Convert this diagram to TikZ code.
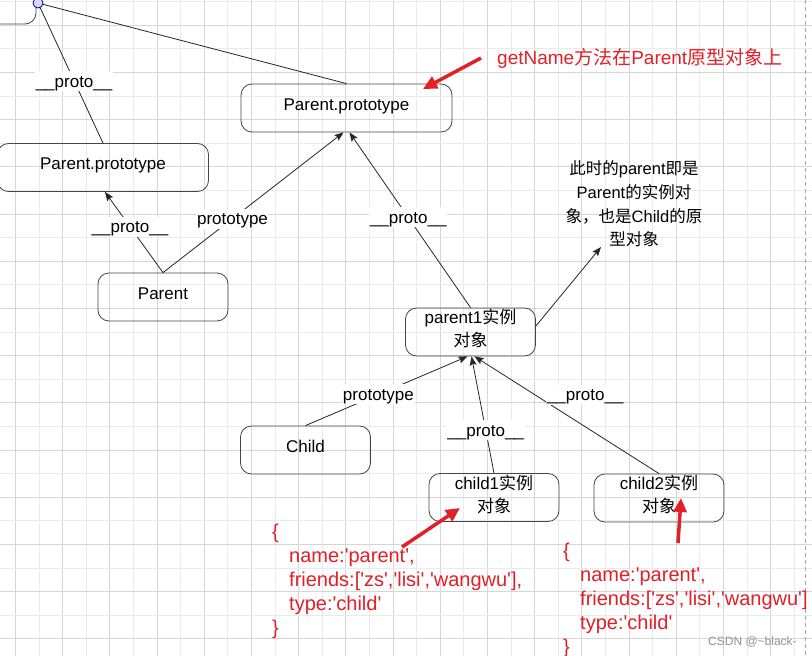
\documentclass[tikz,border=0pt]{standalone}
\usepackage{fontspec}
\setmainfont{Liberation Sans}
\newfontfamily\cjk{Noto Sans CJK SC}
\usepackage{tikz}
\usetikzlibrary{arrows.meta,positioning}
\definecolor{annored}{RGB}{226,32,40}
\definecolor{gridmajor}{RGB}{214,214,214}
\definecolor{gridminor}{RGB}{234,234,234}
\definecolor{boxline}{RGB}{70,70,70}
\newcommand{\zhs}[1]{{\cjk #1}}
\newcommand{\squote}{\textquotesingle}

\begin{document}
\begin{tikzpicture}[x=1pt, y=-1pt,
  rbox/.style={draw=boxline, line width=0.8pt, rounded corners=11pt, minimum width=130pt, minimum height=48pt,
    inner sep=0pt, text depth=7.5pt, align=center, font=\fontsize{17}{23}\selectfont},
  widebox/.style={rbox, minimum width=211pt},
  plainline/.style={draw=black!85, line width=0.8pt},
  conn/.style={plainline, -{Stealth[length=9pt,width=7pt,inset=1.5pt]}},
  elabel/.style={fill=white, inner xsep=1pt, inner ysep=3.25pt, text height=13pt, text depth=0.5pt,
    font=\fontsize{17}{20}\selectfont},
  redarrow/.style={draw=annored, line width=3.5pt, -{Triangle[length=14pt,width=13pt]}},
  redtext/.style={text=annored, font=\fontsize{20}{24}\selectfont, align=left, inner sep=0pt}
]
  \useasboundingbox (0,0) rectangle (812,656);
  \fill[white] (0,0) rectangle (812,656);

  % Grid
  \foreach \k in {0,...,33}{
    \pgfmathsetmacro{\gx}{15.3+23.6*\k}
    \ifodd\k \def\gc{gridminor}\else \def\gc{gridmajor}\fi
    \draw[\gc, line width=0.8pt] (\gx,0) -- (\gx,656);
  }
  \foreach \k in {0,...,27}{
    \pgfmathsetmacro{\gy}{1.5+23.6*\k}
    \ifodd\k \def\gc{gridmajor}\else \def\gc{gridminor}\fi
    \draw[\gc, line width=0.8pt] (0,\gy) -- (812,\gy);
  }
  \draw[gray!70, dash pattern=on 4pt off 3pt, line width=0.8pt] (805,0) -- (805,656);

  % Boxes
  \node[rbox, minimum width=140pt, minimum height=60pt] (objproto) at (-34,-6) {};
  \coordinate (handle) at (38,3);
  \node[widebox] (ppleft) at (103,167.5) {Parent.prototype};
  \node[widebox] (ppmain) at (346.5,108) {Parent.prototype};
  \node[rbox] (parent) at (163,297) {Parent};
  \node[rbox] (parent1) at (470.5,332) {parent1\zhs{实例}\\\zhs{对象}};
  \node[rbox] (child) at (305.5,450) {Child};
  \node[rbox] (child1) at (494,497.5) {child1\zhs{实例}\\\zhs{对象}};
  \node[rbox] (child2) at (659,498) {child2\zhs{实例}\\\zhs{对象}};

  % Note
  \node[font=\fontsize{16.5}{23.7}\selectfont, align=center, inner sep=0pt] (note) at (634,204)
    {\zhs{此时的}parent\zhs{即是}\\Parent\zhs{的实例对}\\\zhs{象，也是}Child\zhs{的原}\\\zhs{型对象}};
  \coordinate (notetip) at (601,247);

  % Links
  \draw[plainline] (ppleft.north) -- node[elabel, pos=0.445] {\_\_proto\_\_} (handle);
  \draw[plainline] (handle) -- (ppmain.north);
  \draw[conn] (parent.north) -- node[elabel, pos=0.57] {\_\_proto\_\_} ([xshift=2pt]ppleft.south);
  \draw[conn] (parent.north) -- node[elabel, pos=0.385] {prototype} ([xshift=-3pt]ppmain.south);
  \draw[conn] (parent1.north) -- node[elabel, pos=0.515] {\_\_proto\_\_} ([xshift=3pt]ppmain.south);
  \draw[conn] ([yshift=6pt]parent1.east) -- (notetip);
  \draw[conn] (child.north) -- node[elabel, pos=0.45] {prototype} ([xshift=-3pt]parent1.south);
  \draw[conn] (child1.north) -- node[elabel, pos=0.37] {\_\_proto\_\_} ([xshift=1pt]parent1.south);
  \draw[conn] (child2.north) -- node[elabel, pos=0.4, yshift=32pt] {\_\_proto\_\_} ([xshift=4pt]parent1.south);

  \draw[draw=blue!65!black, fill=blue!15, line width=0.8pt] (handle) circle (5pt);

  % Red notes
  \node[redtext, font=\fontsize{19}{23}\selectfont, anchor=west] (getname) at (497,58)
    {getName\zhs{方法在}Parent\zhs{原型对象上}};
  \coordinate (r1a) at (481,58);
  \coordinate (r1b) at (423,89);
  \draw[redarrow] (r1a) -- (r1b);

  \node[redtext, anchor=north west] (objone) at (272,523.5)
    {\{\\\hspace*{17pt}name:\squote parent\squote,\\\hspace*{17pt}friends:[\squote zs\squote,\squote lisi\squote,\squote wangwu\squote],\\\hspace*{17pt}type:\squote child\squote\\\}};
  \coordinate (r2a) at (402,547);
  \coordinate (r2b) at (460,508);
  \draw[redarrow] (r2a) -- (r2b);

  \node[redtext, anchor=north west] (objtwo) at (563,542.5)
    {\{\\\hspace*{17pt}name:\squote parent\squote,\\\hspace*{17pt}friends:[\squote zs\squote,\squote lisi\squote,\squote wangwu\squote]\\\hspace*{17pt}type:\squote child\squote\\\}};
  \coordinate (r3a) at (678,543);
  \coordinate (r3b) at (681,498);
  \draw[redarrow] (r3a) -- (r3b);

  \node[anchor=west, text=gray!85, font=\fontsize{12}{14}\selectfont, inner sep=0pt] (mark) at (708,642)
    {CSDN @\textasciitilde black-};
\end{tikzpicture}
\end{document}
